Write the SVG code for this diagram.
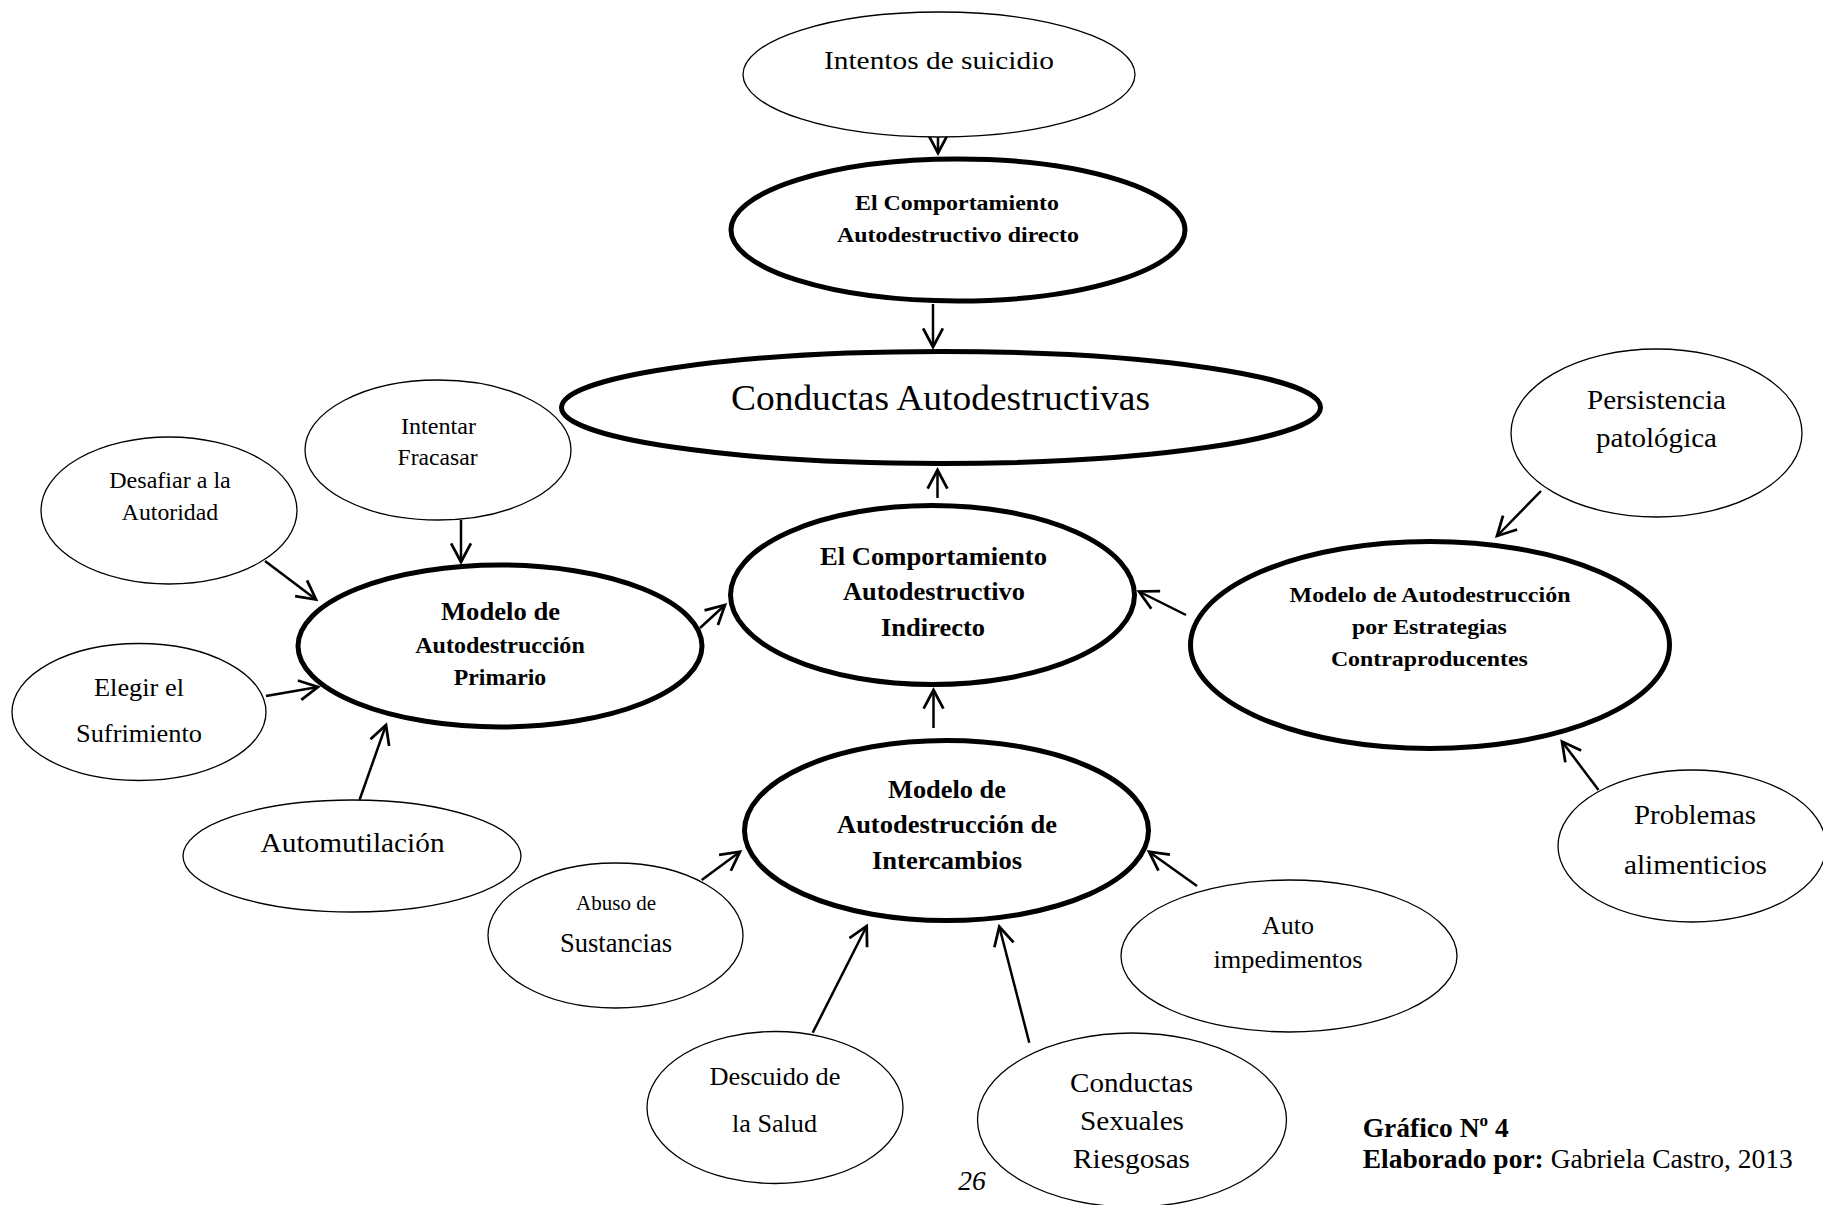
<svg xmlns="http://www.w3.org/2000/svg" width="1823" height="1205" viewBox="0 0 1823 1205">
  <style>
    .thin { fill: #fff; stroke: #000; stroke-width: 1.3; }
    .thick { fill: #fff; stroke: #000; stroke-width: 5; }
    .lbl { font-family: "Liberation Serif", "Times New Roman", serif; fill: #000; text-anchor: middle; }
    .b { font-weight: bold; }
    .edge { stroke: #000; stroke-width: 2.5; fill: none; marker-end: url(#arrow); }
    .foot { font-family: "Liberation Serif", "Times New Roman", serif; fill: #000; font-size: 27.5px; }
  </style>
  <defs>
    <marker id="arrow" markerUnits="userSpaceOnUse" markerWidth="22" markerHeight="22" viewBox="0 0 20 20" refX="18" refY="10" orient="auto" overflow="visible">
      <path d="M1,1 L18,10 L1,19" fill="none" stroke="#000" stroke-width="2.5"/>
    </marker>
  </defs>
  <rect width="1823" height="1205" fill="#fff"/>

  <!-- connectors -->
  <g id="connectors">
    <line class="edge" x1="938" y1="137" x2="938" y2="153"/>
    <line class="edge" x1="933" y1="304" x2="933" y2="347"/>
    <line class="edge" x1="937.5" y1="498" x2="937.5" y2="470"/>
    <line class="edge" x1="933.5" y1="728" x2="933.5" y2="690"/>
    <line class="edge" x1="700" y1="628" x2="725" y2="605"/>
    <line class="edge" x1="1186" y1="615" x2="1139" y2="591.5"/>
    <line class="edge" x1="461" y1="520" x2="461" y2="562"/>
    <line class="edge" x1="265" y1="561" x2="316" y2="599.5"/>
    <line class="edge" x1="266" y1="696" x2="318" y2="687"/>
    <line class="edge" x1="359.5" y1="800" x2="386" y2="725"/>
    <line class="edge" x1="1541" y1="491" x2="1497" y2="536"/>
    <line class="edge" x1="1598.5" y1="790" x2="1562" y2="741.5"/>
    <line class="edge" x1="1197" y1="886" x2="1149" y2="851.7"/>
    <line class="edge" x1="701.7" y1="880" x2="740" y2="851.7"/>
    <line class="edge" x1="812.7" y1="1032.7" x2="866.7" y2="926"/>
    <line class="edge" x1="1029.3" y1="1042.7" x2="999.3" y2="926.7"/>
  </g>

  <!-- nodes -->
  <g id="intentos-suicidio">
    <ellipse class="thin" cx="939" cy="74.5" rx="196" ry="62.5"/>
    <text class="lbl" x="939" y="69" font-size="25" textLength="230" lengthAdjust="spacingAndGlyphs">Intentos de suicidio</text>
  </g>

  <g id="comportamiento-directo">
    <ellipse class="thick" cx="958" cy="230" rx="227" ry="71"/>
    <text class="lbl b" x="957" y="210" font-size="20" textLength="204" lengthAdjust="spacingAndGlyphs">El Comportamiento</text>
    <text class="lbl b" x="958" y="242" font-size="20" textLength="242" lengthAdjust="spacingAndGlyphs">Autodestructivo directo</text>
  </g>

  <g id="conductas-autodestructivas">
    <ellipse class="thick" cx="941" cy="407.5" rx="379.5" ry="56"/>
    <text class="lbl" x="940.5" y="410" font-size="36" textLength="419" lengthAdjust="spacingAndGlyphs">Conductas Autodestructivas</text>
  </g>

  <g id="comportamiento-indirecto">
    <ellipse class="thick" cx="932.5" cy="595" rx="202" ry="89.5"/>
    <text class="lbl b" x="933.5" y="565" font-size="25" textLength="227" lengthAdjust="spacingAndGlyphs">El Comportamiento</text>
    <text class="lbl b" x="934" y="600" font-size="25" textLength="182" lengthAdjust="spacingAndGlyphs">Autodestructivo</text>
    <text class="lbl b" x="933" y="636" font-size="25" textLength="104" lengthAdjust="spacingAndGlyphs">Indirecto</text>
  </g>

  <g id="modelo-intercambios">
    <ellipse class="thick" cx="946.5" cy="830.5" rx="202" ry="90"/>
    <text class="lbl b" x="947" y="798" font-size="25" textLength="118" lengthAdjust="spacingAndGlyphs">Modelo de</text>
    <text class="lbl b" x="947" y="833" font-size="25" textLength="220" lengthAdjust="spacingAndGlyphs">Autodestrucción de</text>
    <text class="lbl b" x="947" y="869" font-size="25" textLength="150" lengthAdjust="spacingAndGlyphs">Intercambios</text>
  </g>

  <g id="modelo-primario">
    <ellipse class="thick" cx="500" cy="646" rx="202" ry="81"/>
    <text class="lbl b" x="500.5" y="620" font-size="25" textLength="119" lengthAdjust="spacingAndGlyphs">Modelo de</text>
    <text class="lbl b" x="500" y="653" font-size="23" textLength="169.5" lengthAdjust="spacingAndGlyphs">Autodestrucción</text>
    <text class="lbl b" x="500" y="685" font-size="23" textLength="92.4" lengthAdjust="spacingAndGlyphs">Primario</text>
  </g>

  <g id="modelo-estrategias">
    <ellipse class="thick" cx="1430" cy="645" rx="239.5" ry="103.5"/>
    <text class="lbl b" x="1430" y="602" font-size="22" textLength="281" lengthAdjust="spacingAndGlyphs">Modelo de Autodestrucción</text>
    <text class="lbl b" x="1429.4" y="634" font-size="22" textLength="155" lengthAdjust="spacingAndGlyphs">por Estrategias</text>
    <text class="lbl b" x="1429.4" y="666" font-size="22" textLength="197" lengthAdjust="spacingAndGlyphs">Contraproducentes</text>
  </g>

  <g id="intentar-fracasar">
    <ellipse class="thin" cx="438" cy="450" rx="133" ry="70"/>
    <text class="lbl" x="438.5" y="434" font-size="23.5" textLength="75" lengthAdjust="spacingAndGlyphs">Intentar</text>
    <text class="lbl" x="437.5" y="465" font-size="23.5" textLength="80" lengthAdjust="spacingAndGlyphs">Fracasar</text>
  </g>

  <g id="desafiar-autoridad">
    <ellipse class="thin" cx="169" cy="510.5" rx="128" ry="73.5"/>
    <text class="lbl" x="170" y="488" font-size="23.5" textLength="121.5" lengthAdjust="spacingAndGlyphs">Desafiar a la</text>
    <text class="lbl" x="170" y="520" font-size="23.5" textLength="96.3" lengthAdjust="spacingAndGlyphs">Autoridad</text>
  </g>

  <g id="elegir-sufrimiento">
    <ellipse class="thin" cx="139" cy="712" rx="127" ry="68.5"/>
    <text class="lbl" x="139" y="696" font-size="25" textLength="90" lengthAdjust="spacingAndGlyphs">Elegir el</text>
    <text class="lbl" x="139" y="741.6" font-size="25" textLength="126" lengthAdjust="spacingAndGlyphs">Sufrimiento</text>
  </g>

  <g id="automutilacion">
    <ellipse class="thin" cx="352" cy="856" rx="169" ry="56"/>
    <text class="lbl" x="352.6" y="851.5" font-size="28" textLength="184" lengthAdjust="spacingAndGlyphs">Automutilación</text>
  </g>

  <g id="persistencia-patologica">
    <ellipse class="thin" cx="1656.5" cy="433" rx="145.5" ry="84"/>
    <text class="lbl" x="1656.5" y="408.6" font-size="28" textLength="139" lengthAdjust="spacingAndGlyphs">Persistencia</text>
    <text class="lbl" x="1656.5" y="447" font-size="28" textLength="121" lengthAdjust="spacingAndGlyphs">patológica</text>
  </g>

  <g id="problemas-alimenticios">
    <ellipse class="thin" cx="1692" cy="846" rx="134" ry="76"/>
    <text class="lbl" x="1695" y="824" font-size="28" textLength="122" lengthAdjust="spacingAndGlyphs">Problemas</text>
    <text class="lbl" x="1695.5" y="873.6" font-size="28" textLength="143" lengthAdjust="spacingAndGlyphs">alimenticios</text>
  </g>

  <g id="auto-impedimentos">
    <ellipse class="thin" cx="1289" cy="956" rx="168" ry="76"/>
    <text class="lbl" x="1288" y="934" font-size="26" textLength="52" lengthAdjust="spacingAndGlyphs">Auto</text>
    <text class="lbl" x="1288" y="968.3" font-size="26" textLength="149" lengthAdjust="spacingAndGlyphs">impedimentos</text>
  </g>

  <g id="abuso-sustancias">
    <ellipse class="thin" cx="615.5" cy="935.5" rx="127.5" ry="72.5"/>
    <text class="lbl" x="616" y="910" font-size="21" textLength="80" lengthAdjust="spacingAndGlyphs">Abuso de</text>
    <text class="lbl" x="616" y="951.7" font-size="26.5" textLength="112" lengthAdjust="spacingAndGlyphs">Sustancias</text>
  </g>

  <g id="descuido-salud">
    <ellipse class="thin" cx="775" cy="1107.5" rx="128" ry="76"/>
    <text class="lbl" x="775" y="1085" font-size="26" textLength="131" lengthAdjust="spacingAndGlyphs">Descuido de</text>
    <text class="lbl" x="774.5" y="1131.7" font-size="26" textLength="85" lengthAdjust="spacingAndGlyphs">la Salud</text>
  </g>

  <g id="conductas-sexuales">
    <ellipse class="thin" cx="1132" cy="1120" rx="154.5" ry="87"/>
    <text class="lbl" x="1131.5" y="1091.7" font-size="28" textLength="123" lengthAdjust="spacingAndGlyphs">Conductas</text>
    <text class="lbl" x="1132" y="1130" font-size="28" textLength="104" lengthAdjust="spacingAndGlyphs">Sexuales</text>
    <text class="lbl" x="1131.5" y="1168.3" font-size="28" textLength="117" lengthAdjust="spacingAndGlyphs">Riesgosas</text>
  </g>

  <!-- page number and caption -->
  <text class="foot" x="972" y="1190" font-style="italic" font-size="27" text-anchor="middle">26</text>
  <text class="foot" x="1362.7" y="1136.7"><tspan font-weight="bold">Gráfico N</tspan><tspan font-weight="bold" font-size="17" dy="-11">o</tspan><tspan font-weight="bold" dy="11"> 4</tspan></text>
  <text class="foot" x="1362.7" y="1168.3"><tspan font-weight="bold">Elaborado por:</tspan> Gabriela Castro, 2013</text>
</svg>
